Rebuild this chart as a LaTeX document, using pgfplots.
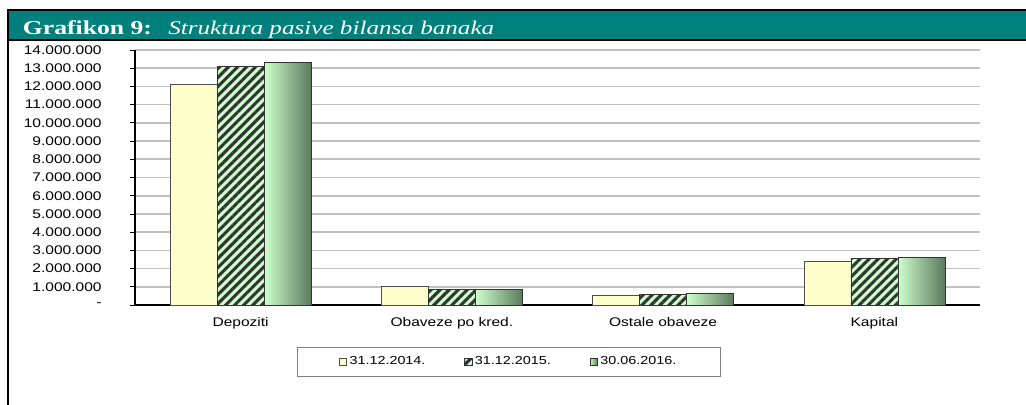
\documentclass[border=0pt]{standalone}
\usepackage{pgfplots}
\pgfplotsset{compat=1.18}
\usepackage{fontspec}
\setmainfont[FakeStretch=1.24]{Liberation Sans}
\newfontfamily\titlefont[FakeStretch=1.3]{Liberation Serif}
\usetikzlibrary{patterns.meta}

\definecolor{headteal}{RGB}{0,128,124}
\definecolor{lightyellow}{RGB}{255,255,204}
\definecolor{lightgreen}{RGB}{204,255,204}
\definecolor{darkgreen}{RGB}{92,122,92}
\definecolor{stripe}{RGB}{51,51,51}
\definecolor{gridgray}{RGB}{192,192,192}

% values in millions
\pgfplotstableread{
x  a      b      c
0  12.14  13.08  13.31
1  1.01   0.87   0.86
2  0.55   0.57   0.65
3  2.39   2.58   2.63
}\pasiva

\begin{document}
\begin{tikzpicture}
% picture frame 1026x404 px (1px = 0.75pt)
\useasboundingbox[fill=white] (0pt,0pt) rectangle (769.5pt,-303pt);
\draw[black, line width=1.1pt, fill=headteal] (772pt,-7.5pt) -- (6pt,-7.5pt) -- (6pt,-30pt) -- (772pt,-30pt);
\draw[black, line width=1.1pt] (6pt,-30pt) -- (6pt,-306pt);
\node[anchor=base west, inner sep=0pt, text=white, font=\titlefont\fontsize{14.8}{17}\selectfont\bfseries] at (17pt,-25.5pt) {Grafikon 9:};
\node[anchor=base west, inner sep=0pt, text=white, font=\titlefont\fontsize{14.5}{17}\selectfont\itshape] at (126pt,-25.5pt) {Struktura pasive bilansa banaka};

\begin{axis}[
    at={(101.25pt,-228.75pt)}, anchor=south west,
    scale only axis,
    width=633.75pt, height=191.25pt,
    bar width=35.25pt,
    xmin=-0.5, xmax=3.5,
    ymin=0, ymax=14,
    axis x line*=bottom, axis y line*=left,
    axis line style={black, line width=1pt},
    xtick={0,1,2,3},
    xticklabels={Depoziti, Obaveze po kred., Ostale obaveze, Kapital},
    major x tick style={draw=none},
    extra x ticks={-0.5,0.5,1.5,2.5,3.5},
    extra x tick labels={},
    extra x tick style={tick style={draw=gray, line width=0.6pt}, major tick length=4pt, tick pos=left, grid=none},
    ytick={0,1,...,14},
    yticklabels={-,1.000.000,2.000.000,3.000.000,4.000.000,5.000.000,6.000.000,7.000.000,8.000.000,9.000.000,10.000.000,11.000.000,12.000.000,13.000.000,14.000.000},
    tick align=outside, major tick length=3.5pt,
    ytick style={black, line width=0.6pt},
    ymajorgrids, grid style={gridgray, line width=1.2pt},
    ticklabel style={font=\fontsize{9.4}{11}\selectfont},
    yticklabel style={xshift=-18pt},
    xticklabel style={yshift=-2pt},
    /pgf/number format/assume math mode=true,
    legend columns=3,
    legend style={at={(0.1917,-0.1647)}, anchor=north west, draw=gray, line width=0.6pt,
        font=\fontsize{8.7}{10}\selectfont, inner xsep=31pt, inner ysep=5pt,
        /tikz/every even column/.append style={column sep=27pt}},
    legend image code/.code={\draw[#1, line width=0.5pt] (0pt,-2.8pt) rectangle (5.6pt,2.8pt);},
]
\addplot[ybar, bar shift=-35.25pt, draw=black!70, line width=0.5pt, fill=lightyellow]
    table[x=x, y=a] {\pasiva};
\addlegendentry{31.12.2014.}
\addplot[ybar, bar shift=0pt, draw=black!80, line width=0.5pt, fill=lightgreen,
    postaction={pattern={Lines[angle=45, distance=4.8pt, line width=2.3pt]}, pattern color=stripe}]
    table[x=x, y=b] {\pasiva};
\addlegendentry{31.12.2015.}
% shaded bars drawn one by one so that each bar gets its own gradient
\addplot[ybar, bar shift=35.25pt, draw=black!80, line width=0.5pt, left color=lightgreen, right color=darkgreen,
    restrict x to domain=0:0] table[x=x, y=c] {\pasiva};
\addlegendentry{30.06.2016.}
\addplot[ybar, forget plot, bar shift=35.25pt, draw=black!80, line width=0.5pt, left color=lightgreen, right color=darkgreen,
    restrict x to domain=1:1] table[x=x, y=c] {\pasiva};
\addplot[ybar, forget plot, bar shift=35.25pt, draw=black!80, line width=0.5pt, left color=lightgreen, right color=darkgreen,
    restrict x to domain=2:2] table[x=x, y=c] {\pasiva};
\addplot[ybar, forget plot, bar shift=35.25pt, draw=black!80, line width=0.5pt, left color=lightgreen, right color=darkgreen,
    restrict x to domain=3:3] table[x=x, y=c] {\pasiva};
\end{axis}
\end{tikzpicture}
\end{document}
